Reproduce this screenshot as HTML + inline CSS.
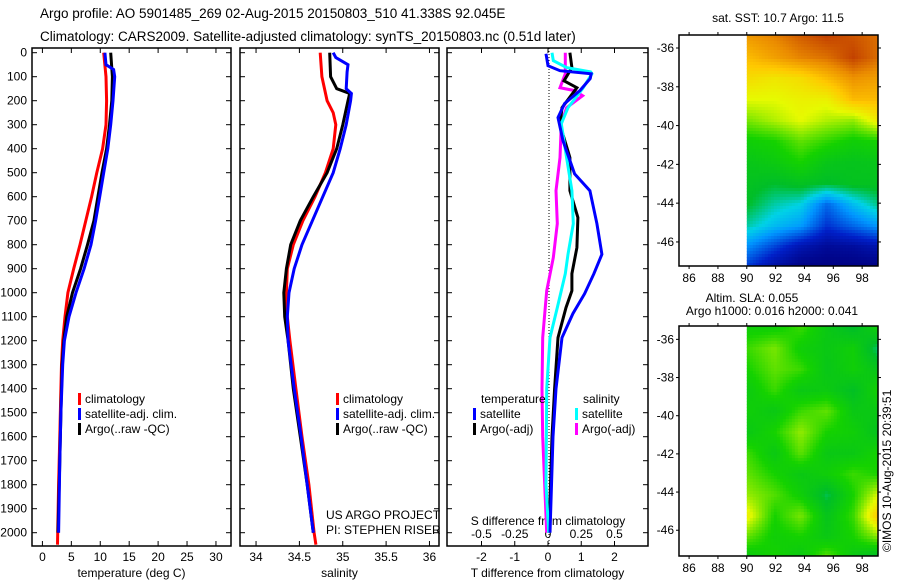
<!DOCTYPE html>
<html><head><meta charset="utf-8"><style>
html,body{margin:0;padding:0;background:#fff;}
svg{display:block;font-family:"Liberation Sans",sans-serif;}
text{font-size:12px;fill:#000;}
</style></head><body>
<svg id="c" width="900" height="580" xmlns="http://www.w3.org/2000/svg">
<text x="40" y="18" style="font-size:13.5px">Argo profile: AO 5901485_269 02-Aug-2015 20150803_510 41.338S 92.045E</text>
<text x="40" y="41" style="font-size:13.5px">Climatology: CARS2009. Satellite-adjusted climatology: synTS_20150803.nc (0.51d later)</text>
<text x="778" y="22" text-anchor="middle">sat. SST: 10.7 Argo: 11.5</text>
<text x="752" y="302" text-anchor="middle">Altim. SLA: 0.055</text>
<text x="772" y="315" text-anchor="middle">Argo h1000: 0.016 h2000: 0.041</text>
<text x="891" y="552" transform="rotate(-90 891 552)">©IMOS 10-Aug-2015 20:39:51</text>
<g id="g"></g>
</svg>
<script>
// ---- data ----
const depthTicks=[0,100,200,300,400,500,600,700,800,900,1000,1100,1200,1300,1400,1500,1600,1700,1800,1900,2000];
const tempTicks=[0,5,10,15,20,25,30];
const salTicks=[34,34.5,35,35.5,36];
const tdiffTicks=[-2,-1,0,1,2];
const sdiffTicks=[-0.5,-0.25,0,0.25,0.5];
const tDepth=[0,100,200,300,400,500,600,700,800,900,1000,1100,1200,1300,1400,1600,1800,2050];
const tClim=[10.6,11,11.1,11,10.4,9.4,8.5,7.5,6.5,5.4,4.4,3.9,3.5,3.3,3.2,3.0,2.8,2.6];
const tArgoD=[0,100,200,300,400,500,600,700,800,900,1000,1100,1200,1300,1500,1700,1900,2000];
const tArgo=[11.8,12.1,12,11.6,11.1,10.3,9.6,8.9,7.8,6.6,5.2,4.2,3.7,3.4,3.2,3.0,2.8,2.7];
const tSatD=[0,50,70,100,200,300,400,500,600,700,800,900,1000,1100,1200,1300,1500,1700,2000];
const tSat=[10.8,11,12.3,12.5,12.2,11.8,11.3,10.6,9.9,9.2,8.4,7.2,5.8,4.6,3.8,3.5,3.2,3.0,2.8];
const sClimD=[0,100,200,250,300,400,500,600,700,800,900,1000,1100,1200,1400,1600,1800,2000,2050];
const sClim=[34.74,34.76,34.82,34.89,34.92,34.89,34.8,34.68,34.54,34.43,34.36,34.35,34.36,34.39,34.46,34.53,34.61,34.67,34.69];
const sArgoD=[0,100,150,170,200,300,400,500,600,700,800,900,1000,1100,1200,1400,1600,1800,2000];
const sArgo=[34.85,34.86,34.93,35.08,35.06,35.0,34.93,34.82,34.66,34.51,34.4,34.35,34.32,34.33,34.37,34.43,34.51,34.59,34.66];
const sSatD=[0,20,50,80,150,170,200,300,400,500,600,700,800,900,1000,1100,1200,1400,1600,1800,2000];
const sSat=[34.89,34.92,35.06,35.05,35.04,35.1,35.09,35.04,34.97,34.89,34.77,34.65,34.53,34.44,34.38,34.36,34.37,34.44,34.52,34.59,34.66];
const dTsD=[4,54,75,88,108,158,212,270,367,505,575,712,840,921,1004,1087,1187,1400,1600,2000];
const dTsat=[-0.06,0,0.36,1.3,1.27,0.96,0.5,0.3,0.45,0.8,1.26,1.47,1.62,1.38,1.1,0.75,0.42,0.24,0.15,0.06];
const dTaD=[0,62,117,146,229,300,437,575,687,812,921,992,1062,1187,1400,1600,2000];
const dTargo=[0.66,0.72,0.48,0.87,0.42,0.36,0.66,0.66,0.9,0.87,0.72,0.72,0.54,0.3,0.2,0.12,0.03];
const dSsD=[0,33,62,80,88,150,229,296,437,575,712,840,921,1062,1187,1400,1800,2000];
const dSsat=[0.03,0.04,0.14,0.32,0.33,0.26,0.15,0.1,0.14,0.18,0.19,0.15,0.13,0.07,0.015,-0.01,-0.015,0.005];
const dSaD=[0,88,146,158,179,229,296,437,575,712,854,992,1187,1400,1600,2000];
const dSargo=[0.13,0.13,0.09,0.2,0.26,0.14,0.1,0.09,0.06,0.07,0.04,-0.01,-0.04,-0.045,-0.04,-0.01];
const mapLonTicks=[86,88,90,92,94,96,98];
const mapLatTicks=[-36,-38,-40,-42,-44,-46];
const sstGrid=[
[0.85,0.88,0.92,0.95,0.93,0.9],[0.8,0.84,0.88,0.9,0.95,0.9],[0.74,0.72,0.74,0.8,0.86,0.84],
[0.68,0.68,0.7,0.7,0.8,0.8],[0.6,0.64,0.68,0.64,0.62,0.72],[0.5,0.52,0.58,0.54,0.5,0.52],
[0.46,0.48,0.52,0.46,0.45,0.46],[0.44,0.42,0.44,0.42,0.44,0.44],[0.42,0.36,0.33,0.2,0.3,0.38],
[0.36,0.3,0.26,0.14,0.2,0.26],[0.24,0.16,0.08,0.04,0.05,0.08],[0.14,0.05,0.0,0.0,0.0,0.0]];
const slaGrid=[
[0.5,0.5,0.55,0.47,0.42,0.5],[0.55,0.6,0.5,0.47,0.5,0.38],[0.52,0.58,0.55,0.46,0.5,0.45],
[0.48,0.55,0.47,0.48,0.43,0.52],[0.5,0.47,0.55,0.58,0.47,0.47],[0.47,0.52,0.62,0.52,0.5,0.44],
[0.55,0.47,0.58,0.47,0.47,0.52],[0.58,0.52,0.47,0.5,0.55,0.52],[0.62,0.57,0.5,0.4,0.52,0.68],
[0.7,0.52,0.6,0.45,0.55,0.8],[0.58,0.5,0.52,0.47,0.52,0.62],[0.47,0.52,0.47,0.58,0.47,0.4]];

const NS='http://www.w3.org/2000/svg';
const G=document.getElementById('g');
function mk(tag,at,parent){const e=document.createElementNS(NS,tag);for(const k in at)e.setAttribute(k,at[k]);(parent||G).appendChild(e);return e;}
function txt(x,y,s,anchor,parent){const t=mk('text',{x:x,y:y,'text-anchor':anchor||'start'},parent);t.textContent=s;return t;}
const Y0=52.7,YS=0.24;
function yD(d){return Y0+d*YS;}
const PT=48,PB=546;

function panel(name,x0,x1,lo,hi,ticks,fmt,xlabel,showY){
  const g=mk('g',{});
  
  
  const sx=v=>x0+(v-lo)/(hi-lo)*(x1-x0);
  mk('rect',{x:x0,y:PT,width:x1-x0,height:PB-PT,fill:'none',stroke:'#000','stroke-width':1.5},g);
  depthTicks.forEach(d=>{const y=yD(d);
    mk('line',{x1:x0,x2:x0+5,y1:y,y2:y,stroke:'#000'},g);
    mk('line',{x1:x1-5,x2:x1,y1:y,y2:y,stroke:'#000'},g);
    if(showY){const t=txt(x0-5,y+4,String(d),'end',g);
      
      }
  });
  if(ticks){ticks.forEach(v=>{const x=sx(v);
    mk('line',{x1:x,x2:x,y1:PB,y2:PB-5,stroke:'#000'},g);
    mk('line',{x1:x,x2:x,y1:PT,y2:PT+5,stroke:'#000'},g);
    const t=txt(x,PB+15,fmt(v),'middle',g);
    
    });}
  if(xlabel){const t=txt((x0+x1)/2,PB+31,xlabel,'middle',g);
    
    }
  return sx;
}
function line(sx,vals,depths,color,name){
  const p=vals.map((v,i)=>sx(v).toFixed(1)+','+yD(depths[i]).toFixed(1)).join(' ');
  const l=mk('polyline',{points:p,fill:'none',stroke:color,'stroke-width':3,'stroke-linejoin':'miter'});
  
  
}
function legend(x,y,items){
  items.forEach((it,i)=>{
    const r=mk('rect',{x:x,y:y+i*15-10,width:3,height:12,fill:it[1]});
    
    
    const t=txt(x+7,y+i*15,it[0]);
    
    
  });
}
// temperature
const sT=panel('temperature-panel',32,231,-1.8,32.6,tempTicks,v=>String(v),'temperature (deg C)',true);
line(sT,tClim,tDepth,'#f00','temp-climatology-line');
line(sT,tArgo,tArgoD,'#000','temp-argo-line');
line(sT,tSat,tSatD,'#00f','temp-satellite-line');
legend(78,403,[['climatology','#f00'],['satellite-adj. clim.','#00f'],['Argo(..raw -QC)','#000']]);
// salinity
const sS=panel('salinity-panel',240,439,33.815,36.11,salTicks,v=>String(v),'salinity',false);
line(sS,sClim,sClimD,'#f00','sal-climatology-line');
line(sS,sArgo,sArgoD,'#000','sal-argo-line');
line(sS,sSat,sSatD,'#00f','sal-satellite-line');
legend(336,403,[['climatology','#f00'],['satellite-adj. clim.','#00f'],['Argo(..raw -QC)','#000']]);
const c1=txt(326,519,'US ARGO PROJECT');
const c2=txt(326,534,'PI: STEPHEN RISER');
// differences
panel('difference-panel',447,648,-3,3,null,null,'T difference from climatology',false);
const sxT=v=>548+v*33.25, sxS=v=>548+v*133;
tdiffTicks.forEach(v=>{const x=sxT(v);mk('line',{x1:x,x2:x,y1:PB,y2:PB-5,stroke:'#000'});mk('line',{x1:x,x2:x,y1:PT,y2:PT+5,stroke:'#000'});
  const t=txt(x,PB+15,String(v),'middle');});
sdiffTicks.forEach(v=>{const t=txt(sxS(v),538,String(v),'middle');});
const st=txt(548,525,'S difference from climatology','middle');
const zl=mk('line',{x1:549,x2:549,y1:PT,y2:PB,stroke:'#000','stroke-dasharray':'1,2'});
line(sxS,dSargo,dSaD,'#f0f','sdiff-argo-line');
line(sxT,dTargo,dTaD,'#000','tdiff-argo-line');
line(sxS,dSsat,dSsD,'#0ff','sdiff-satellite-line');
line(sxT,dTsat,dTsD,'#00f','tdiff-satellite-line');
const lt=txt(481,403,'temperature');
const ls=txt(583,403,'salinity');
legend(473,418,[['satellite','#00f'],['Argo(-adj)','#000']]);
legend(575,418,[['satellite','#0ff'],['Argo(-adj)','#f0f']]);

// maps
const stops=[[0,[0,0,128]],[0.12,[0,32,200]],[0.25,[0,150,255]],[0.33,[0,210,230]],[0.42,[0,190,40]],[0.52,[20,210,0]],[0.6,[120,230,0]],[0.68,[230,250,0]],[0.78,[255,200,0]],[0.87,[235,140,0]],[1,[170,20,0]]];
function cmap(v){v=Math.max(0,Math.min(1,v));
  for(let i=1;i<stops.length;i++){if(v<=stops[i][0]){const a=stops[i-1],b=stops[i],t=(v-a[0])/(b[0]-a[0]);
    return 'rgb('+a[1].map((c,k)=>Math.round(c+(b[1][k]-c)*t)).join(',')+')';}}
  return 'rgb(170,20,0)';}
function mapPanel(name,top,bot,latTop,latBot,grid){
  const g=mk('g',{});
  
  
  const L=679,R=878,lonL=85.3,lonR=99.1;
  const sx=lon=>L+(lon-lonL)/(lonR-lonL)*(R-L);
  const sy=lat=>top+(latTop-lat)/(latTop-latBot)*(bot-top);
  const x90=sx(90),nr=grid.length,nc=grid[0].length,cell=3;
  for(let y=top;y<bot;y+=cell){for(let x=x90;x<R;x+=cell){
    const fy=(y-top)/(bot-top)*(nr-1),fx=(x-x90)/(R-x90)*(nc-1);
    const i=Math.min(nr-2,Math.floor(fy)),j=Math.min(nc-2,Math.floor(fx)),a=fy-i,b=fx-j;
    const v=grid[i][j]*(1-a)*(1-b)+grid[i+1][j]*a*(1-b)+grid[i][j+1]*(1-a)*b+grid[i+1][j+1]*a*b;
    mk('rect',{x:x.toFixed(1),y:y,width:Math.min(cell,R-x)+0.5,height:Math.min(cell,bot-y)+0.5,fill:cmap(v)},g);}}
  mk('rect',{x:L,y:top,width:R-L,height:bot-top,fill:'none',stroke:'#000','stroke-width':1.5},g);
  mapLonTicks.forEach(v=>{const x=sx(v);mk('line',{x1:x,x2:x,y1:bot,y2:bot+3,stroke:'#000'},g);mk('line',{x1:x,x2:x,y1:top,y2:top-3,stroke:'#000'},g);
    const t=txt(x,bot+16,String(v),'middle',g);});
  mapLatTicks.forEach(v=>{const y=sy(v);mk('line',{x1:L,x2:L-3,y1:y,y2:y,stroke:'#000'},g);mk('line',{x1:R,x2:R+3,y1:y,y2:y,stroke:'#000'},g);
    const t=txt(L-5,y+4,String(v),'end',g);});
}
mapPanel('sst-map',35,266,-35.33,-47.24,sstGrid);
mapPanel('sla-map',326,556,-35.3,-47.35,slaGrid);
</script>
</body></html>
